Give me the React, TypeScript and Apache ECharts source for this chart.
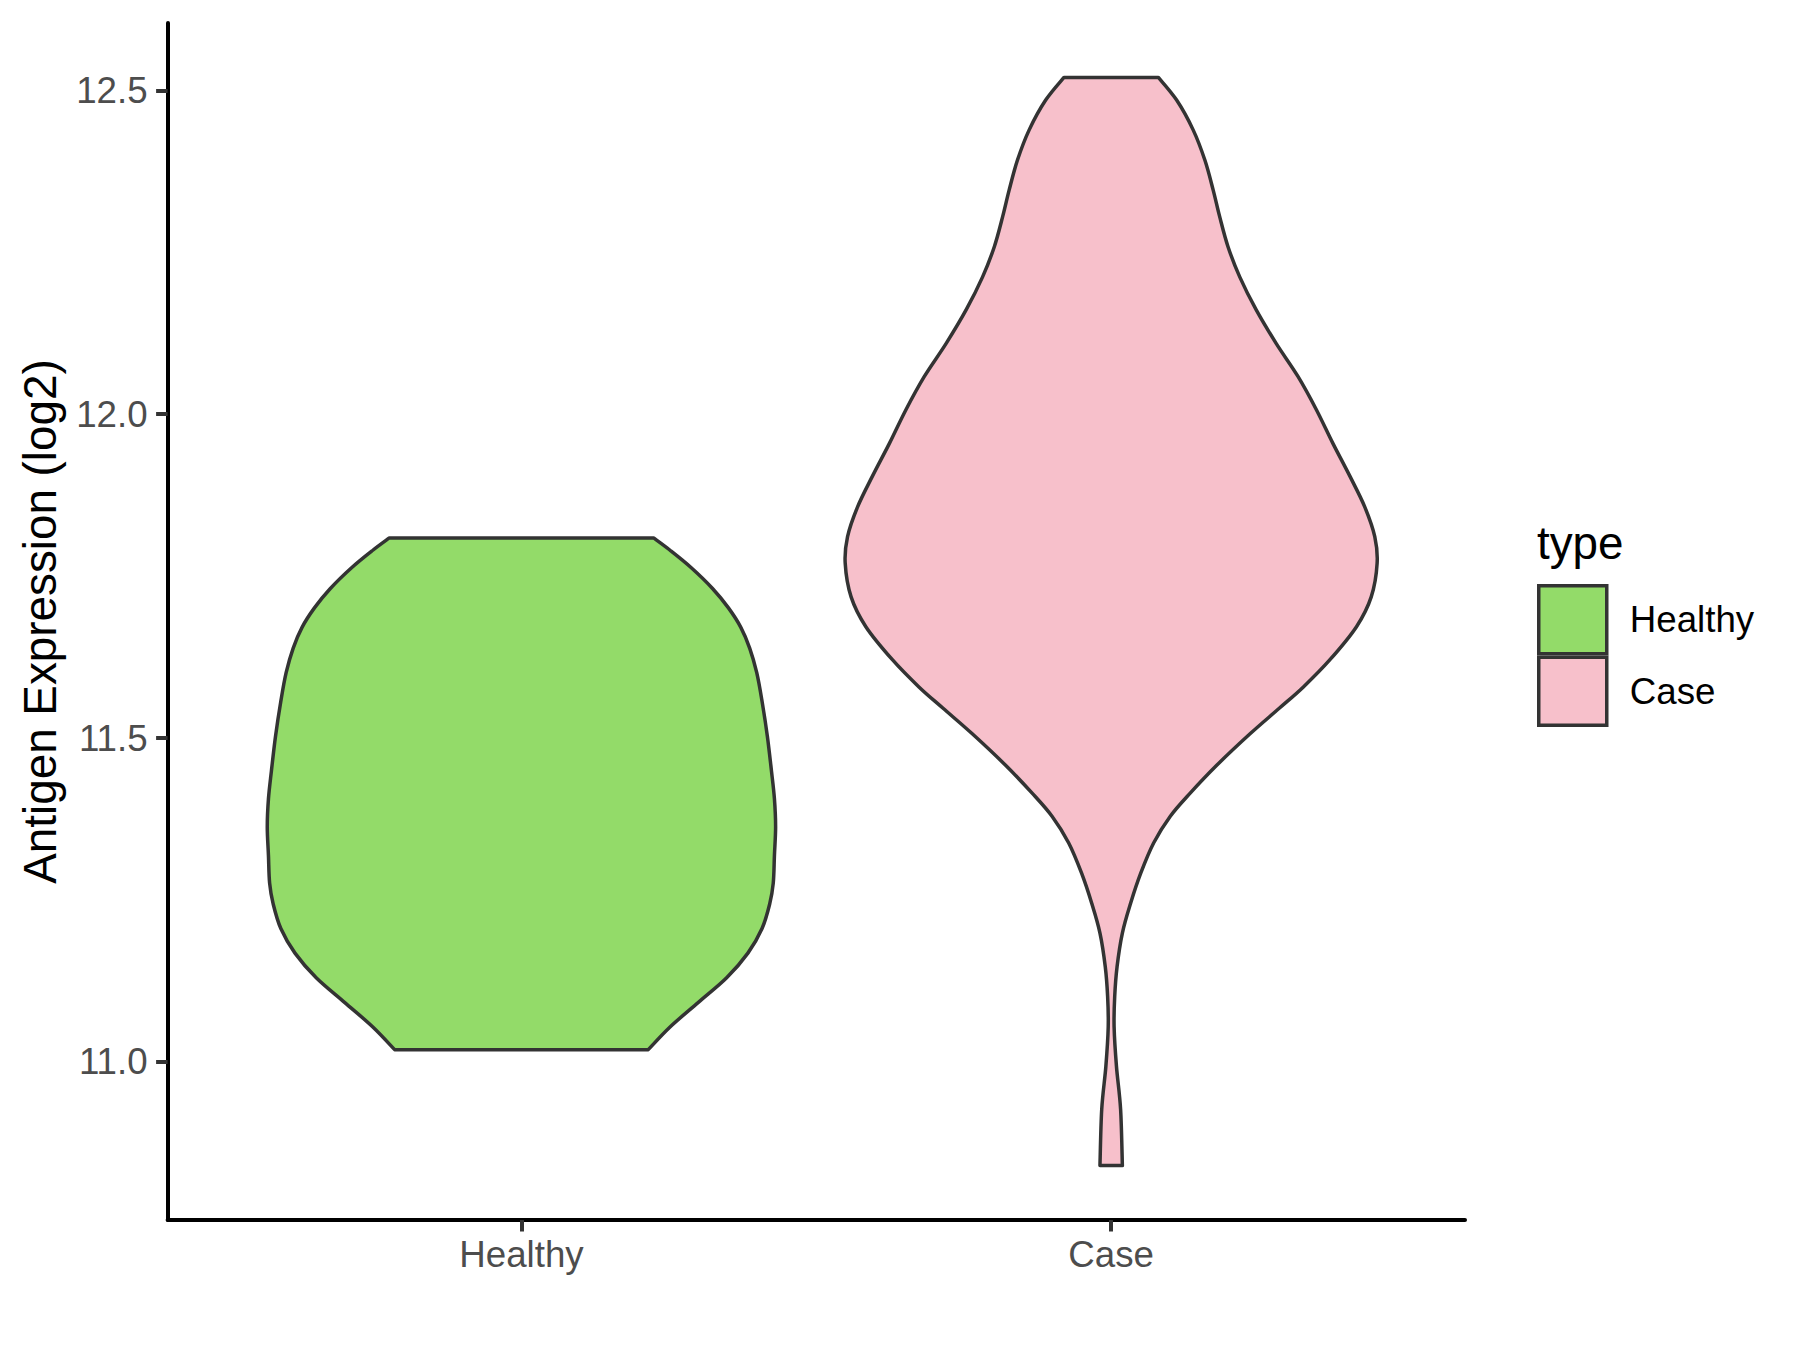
import React, { useEffect, useRef } from 'react';
import * as echarts from 'echarts';

const categories = ['Healthy', 'Case'];
const yTicks = [11.0, 11.5, 12.0, 12.5];

// Healthy violin outline: expression value and half-width (in category units)
const healthyY = [11.809, 11.790, 11.763, 11.731, 11.701, 11.671, 11.639, 11.601, 11.557, 11.503, 11.449, 11.406, 11.363, 11.319, 11.276, 11.244, 11.206, 11.168, 11.130, 11.092, 11.054, 11.019];
const healthyHalfWidth = [0.224, 0.252, 0.288, 0.324, 0.351, 0.372, 0.387, 0.399, 0.408, 0.417, 0.424, 0.429, 0.431, 0.429, 0.427, 0.421, 0.408, 0.384, 0.348, 0.300, 0.252, 0.215];

// Case violin outline
const caseY = [12.520, 12.485, 12.439, 12.392, 12.346, 12.305, 12.259, 12.212, 12.161, 12.109, 12.058, 12.007, 11.955, 11.904, 11.857, 11.811, 11.770, 11.718, 11.672, 11.621, 11.579, 11.546, 11.507, 11.458, 11.415, 11.379, 11.338, 11.291, 11.245, 11.199, 11.147, 11.101, 11.054, 10.993, 10.927, 10.840];
const caseHalfWidth = [0.080, 0.111, 0.139, 0.159, 0.173, 0.184, 0.198, 0.218, 0.246, 0.280, 0.317, 0.348, 0.376, 0.405, 0.430, 0.447, 0.451, 0.441, 0.416, 0.371, 0.326, 0.285, 0.236, 0.179, 0.134, 0.100, 0.072, 0.050, 0.033, 0.019, 0.010, 0.006, 0.005, 0.009, 0.016, 0.019];

const fills = ['#93DB69', '#F7C0CB'];
const FONT = '"Liberation Sans", Arial, Helvetica, sans-serif';

// Catmull-Rom curve through screen points, as SVG path commands (without the initial move)
function curveThrough(pts: number[][]): string {
  let d = '';
  for (let i = 0; i < pts.length - 1; i++) {
    const p0 = pts[Math.max(i - 1, 0)];
    const p1 = pts[i];
    const p2 = pts[i + 1];
    const p3 = pts[Math.min(i + 2, pts.length - 1)];
    const c1x = p1[0] + (p2[0] - p0[0]) / 6;
    const c1y = p1[1] + (p2[1] - p0[1]) / 6;
    const c2x = p2[0] - (p3[0] - p1[0]) / 6;
    const c2y = p2[1] - (p3[1] - p1[1]) / 6;
    d += ` C ${c1x} ${c1y} ${c2x} ${c2y} ${p2[0]} ${p2[1]}`;
  }
  return d;
}

export default function App() {
  const ref = useRef<HTMLDivElement>(null);
  useEffect(() => {
    const chart = echarts.init(ref.current as HTMLDivElement, null, { renderer: 'svg' });
    const violins = [
      { name: categories[0], center: 1, ys: healthyY, hws: healthyHalfWidth, fill: fills[0] },
      { name: categories[1], center: 2, ys: caseY, hws: caseHalfWidth, fill: fills[1] },
    ];
    const option: any = {
      animation: false,
      grid: { left: 167.6, right: 335, top: 23, bottom: 130, containLabel: false },
      xAxis: {
        type: 'value',
        min: 0.4,
        max: 2.6,
        axisLine: { show: true, onZero: false, lineStyle: { color: '#000', width: 4 } },
        axisTick: { show: true, customValues: [1, 2], length: 11.5, lineStyle: { color: '#333333', width: 4 } },
        axisLabel: {
          customValues: [1, 2],
          formatter: (v: number) => categories[Math.round(v) - 1] ?? '',
          fontSize: 36.7,
          color: '#4D4D4D',
          fontFamily: FONT,
          margin: 16,
        },
        splitLine: { show: false },
      },
      yAxis: {
        type: 'value',
        min: 10.756,
        max: 12.604,
        name: 'Antigen Expression (log2)',
        nameLocation: 'middle',
        nameRotate: 90,
        nameGap: 104,
        nameTextStyle: { fontSize: 45.8, color: '#000', fontFamily: FONT },
        axisLine: { show: true, lineStyle: { color: '#000', width: 4 } },
        axisTick: { show: true, customValues: yTicks, length: 11.5, lineStyle: { color: '#333333', width: 4 } },
        axisLabel: {
          customValues: yTicks,
          formatter: (v: number) => v.toFixed(1),
          fontSize: 36.7,
          color: '#4D4D4D',
          fontFamily: FONT,
          margin: 20,
        },
        splitLine: { show: false },
      },
      legend: {
        orient: 'vertical',
        left: 1537,
        top: 584,
        padding: 0,
        itemWidth: 68,
        itemHeight: 68,
        itemGap: 0,
        selectedMode: false,
        textStyle: { fontSize: 36.7, color: '#000', fontFamily: FONT, padding: [0, 0, 0, 18] },
        data: violins.map((v) => ({
          name: v.name,
          icon: 'rect',
          itemStyle: { color: v.fill, borderColor: '#333333', borderWidth: 3.5 },
        })),
      },
      graphic: [
        {
          type: 'text',
          x: 1537,
          y: 543,
          style: { text: 'type', fontSize: 45.8, fill: '#000', fontFamily: FONT, verticalAlign: 'middle' },
        },
      ],
      series: violins.map((v) => ({
        type: 'custom',
        name: v.name,
        data: [[v.center, v.ys[0]]],
        itemStyle: { color: v.fill },
        renderItem: (_params: any, api: any) => {
          const right = v.ys.map((y, i) => api.coord([v.center + v.hws[i], y]));
          const left = v.ys.map((y, i) => api.coord([v.center - v.hws[i], y]));
          const leftUp = left.slice().reverse();
          const n = right.length - 1;
          const d =
            `M ${left[0][0]} ${left[0][1]} L ${right[0][0]} ${right[0][1]}` +
            curveThrough(right) +
            ` L ${left[n][0]} ${left[n][1]}` +
            curveThrough(leftUp) +
            ' Z';
          return {
            type: 'path',
            shape: { pathData: d },
            style: { fill: v.fill, stroke: '#333333', lineWidth: 3.5, lineJoin: 'round' },
          };
        },
      })),
    };
    chart.setOption(option);
    return () => chart.dispose();
  }, []);
  return <div ref={ref} style={{ position: 'absolute', left: 0, top: 0, width: 1800, height: 1350 }} />;
}
